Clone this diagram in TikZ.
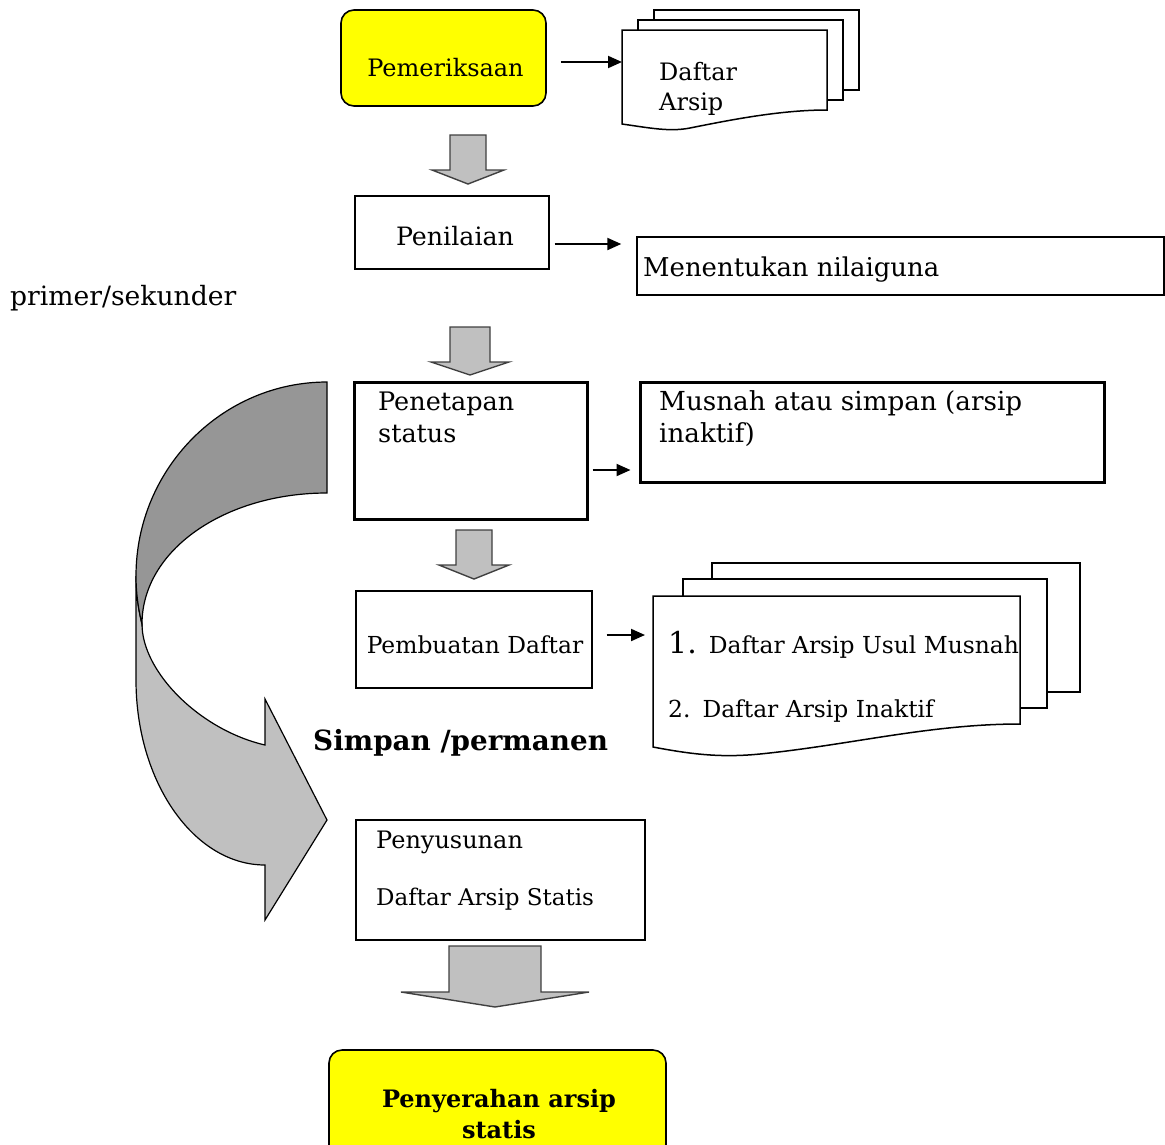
\documentclass[tikz,border=0pt]{standalone}
\usepackage{fontspec}
\setmainfont{DejaVu Serif}
\usepackage{tikz}
\usetikzlibrary{arrows.meta}

\definecolor{markyellow}{RGB}{255,255,0}
\definecolor{arrowgray}{RGB}{192,192,192}
\definecolor{bandgray}{RGB}{150,150,150}

\newcommand\fsz[1]{\fontsize{#1}{#1}\selectfont}

\begin{document}
\begin{tikzpicture}[
x=1pt,y=-1pt,
box/.style={draw=black,line width=1.4pt,rectangle,inner sep=0},
boldbox/.style={box,line width=3pt},
startbox/.style={box,fill=markyellow,rounded corners=13pt,line width=1.6pt},
txt/.style={inner sep=0,anchor=base west,font=\fsz{24}},
ctxt/.style={txt,anchor=base},
btxt/.style={txt,font=\fsz{24}\bfseries},
paper/.style={draw=black,fill=white,line width=1.5pt},
flow/.style={-{Triangle[length=14pt,width=12pt]},line width=2pt},
bigarrow/.style={draw=black!75,fill=arrowgray,line width=1.4pt}
]
\useasboundingbox (0,0) rectangle (1165,1144);
\clip (0,0) rectangle (1165,1144);

% boxes
\node[startbox,minimum width=205,minimum height=96] (periksa) at (443.5,58) {};
\node[box,minimum width=194,minimum height=73] (nilai) at (452,232.5) {};
\node[box,minimum width=527,minimum height=58] (guna) at (900.5,266) {};
\node[boldbox,minimum width=233,minimum height=137] (tetap) at (470.5,450.5) {};
\node[boldbox,minimum width=464,minimum height=100] (musnah) at (872,432) {};
\node[box,minimum width=236,minimum height=97] (buat) at (474,639.5) {};
\node[box,minimum width=289,minimum height=120] (susun) at (500.5,880) {};
\node[startbox,minimum width=337,minimum height=112] (serah) at (497.5,1106) {};

% paper stacks
\draw[paper] (654,10) rectangle (859,90);
\draw[paper] (638,20) rectangle (843,100);
\draw[paper] (622,30) -- (827,30) -- (827,110)
  .. controls (780,110) and (730,120) .. (690,128)
  .. controls (670,132) and (650,128) .. (622,124) -- cycle;
\coordinate (docA) at (622,62);

\draw[paper] (712,563) rectangle (1080,692);
\draw[paper] (683,579) rectangle (1047,708);
\draw[paper] (653,596) -- (1020,596) -- (1020,724)
  .. controls (930,724) and (850,745) .. (760,754)
  .. controls (720,758) and (690,754) .. (653,747) -- cycle;
\coordinate (docB) at (653,635);

% gray block arrows
\foreach \cx/\top/\base/\sh/\hh/\tip in {468/135/170/18/36/184, 470/327/362/20/39/375,
    474/530/565/18/35/579, 495/946/992/46/94/1007}
  \draw[bigarrow] ({\cx-\sh},\top) -- ({\cx+\sh},\top) -- ({\cx+\sh},\base)
    -- ({\cx+\hh},\base) -- (\cx,\tip) -- ({\cx-\hh},\base) -- ({\cx-\sh},\base) -- cycle;

% curved arrow
\draw[fill=arrowgray,line width=1.2pt] (136,576) -- (136,680)
  .. controls (136,782) and (194,865) .. (265,865) -- (265,920) -- (327,820)
  -- (265,699) -- (265,745) .. controls (200,730) and (142,672) .. (142,624)
  .. controls (138,608) and (136,592) .. (136,576) -- cycle;
\draw[fill=bandgray,line width=1.2pt] (327,382) .. controls (222,382) and (136,469) .. (136,576)
  .. controls (136,592) and (138,608) .. (142,624)
  .. controls (142,550) and (225,493) .. (327,493) -- cycle;

% connectors
\draw[flow,shorten <=14pt] (periksa.east |- 0,62) -- (docA);
\draw[flow,shorten <=5pt,shorten >=15pt] (nilai.east |- 0,244) -- (guna.west |- 0,244);
\draw[flow,shorten <=4pt,shorten >=8pt] (tetap.east |- 0,470) -- (musnah.west |- 0,470);
\draw[flow,shorten <=14pt,shorten >=8pt] (buat.east |- 0,635) -- (docB);

% texts
\node[ctxt] (periksa-t) at (445.5,76) {Pemeriksaan};
\node[txt] (docA-t1) at (659,80) {Daftar};
\node[txt] (docA-t2) at (659,110) {Arsip};
\node[ctxt,font=\fsz{25.3}] (nilai-t) at (455,245) {Penilaian};
\node[txt,font=\fsz{25.9}] (guna-t) at (643,276) {Menentukan nilaiguna};
\node[txt,font=\fsz{26.6}] (primer-t) at (10,305) {primer/sekunder};
\node[txt,font=\fsz{25.5}] (tetap-t1) at (378,410) {Penetapan};
\node[txt,font=\fsz{25.5}] (tetap-t2) at (378,442) {status};
\node[txt,font=\fsz{26.2}] (musnah-t1) at (659,410) {Musnah atau simpan (arsip};
\node[txt,font=\fsz{26.2}] (musnah-t2) at (659,442) {inaktif)};
\node[ctxt,font=\fsz{23.4}] (buat-t) at (475,653) {Pembuatan Daftar};
\node[txt,font=\fsz{23.4}] (docB-t1) at (668,653) {{\fsz{30}1.}\hspace{12pt}Daftar Arsip Usul Musnah};
\node[txt,font=\fsz{23.4}] (docB-t2) at (668,717) {2.\hspace{12pt}Daftar Arsip Inaktif};
\node[btxt,font=\fsz{27.8}\bfseries] (simpan-t) at (313,750) {Simpan /permanen};
\node[txt] (susun-t1) at (376,848) {Penyusunan};
\node[txt,font=\fsz{23}] (susun-t2) at (376,905) {Daftar Arsip Statis};
\node[btxt,anchor=base] (serah-t1) at (499,1107) {Penyerahan arsip};
\node[btxt,anchor=base] (serah-t2) at (499,1138) {statis};
\end{tikzpicture}
\end{document}
